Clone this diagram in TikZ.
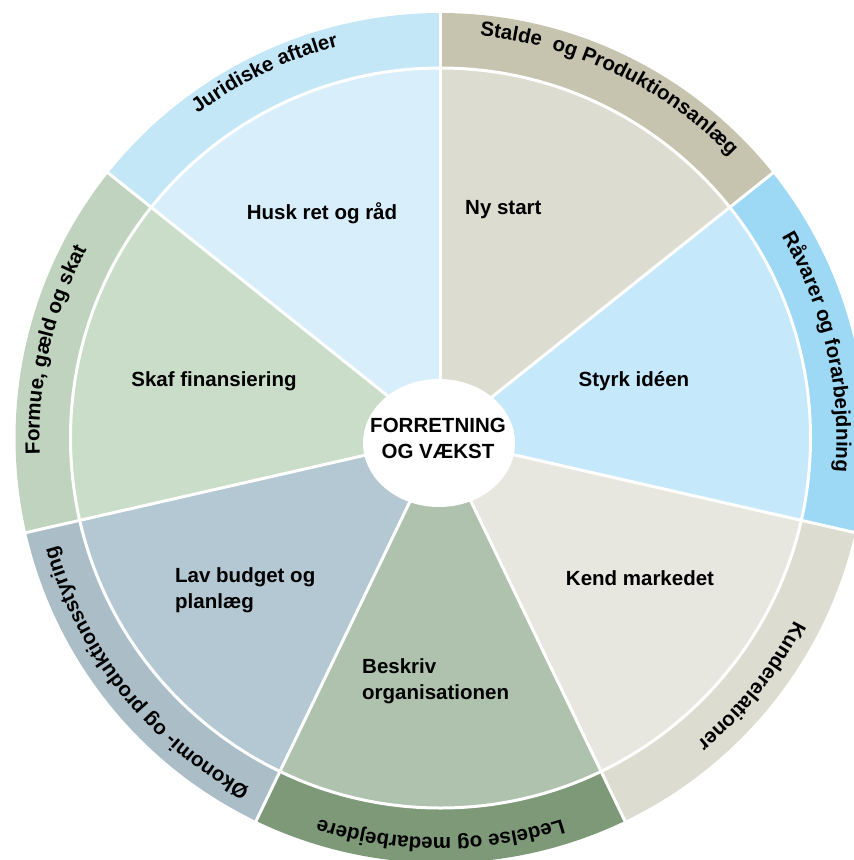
\documentclass[tikz,border=0pt]{standalone}
\usepackage{fontspec}
\setmainfont{Liberation Sans}
\usetikzlibrary{decorations.text}
\definecolor{nyIn}{HTML}{DDDCD0}
\definecolor{nyOut}{HTML}{C6C4AF}
\definecolor{stIn}{HTML}{C5E8FA}
\definecolor{stOut}{HTML}{9DD9F5}
\definecolor{keIn}{HTML}{E8E7DF}
\definecolor{keOut}{HTML}{DCDCD0}
\definecolor{beIn}{HTML}{AFC2AE}
\definecolor{beOut}{HTML}{7D9977}
\definecolor{laIn}{HTML}{B3C8D2}
\definecolor{laOut}{HTML}{ABBEC8}
\definecolor{skIn}{HTML}{CADDC8}
\definecolor{skOut}{HTML}{BFD3BE}
\definecolor{huIn}{HTML}{D8EFFB}
\definecolor{huOut}{HTML}{C4E7F8}
\newcommand\lblfont{\fontsize{20.5}{26.5}\selectfont\bfseries}
\newcommand\ringfont{\fontsize{20.5}{24}\selectfont\bfseries}
\tikzset{
  lbl/.style={font=\lblfont, text=black, inner sep=0pt},
  sep/.style={white, line width=3pt},
  ringtext/.style={decorate, decoration={text along path, text align=center, text={|\ringfont|#1}}}
}
\begin{document}
\begin{tikzpicture}[x=1pt,y=1pt]
\useasboundingbox (0,0) rectangle (854,-860);
\coordinate (C) at (440.5,-438);
\begin{scope}[shift={(C)}]
  % sectors: start angle / end angle / inner colour / outer colour
  \foreach \s/\e/\ci/\co in {90/38.571/nyIn/nyOut, 38.571/-12.857/stIn/stOut,
      -12.857/-64.286/keIn/keOut, -64.286/-115.714/beIn/beOut,
      -115.714/-167.143/laIn/laOut, -167.143/-218.571/skIn/skOut,
      141.429/90/huIn/huOut}{
    \fill[\co] (0,0) -- (\s:425) arc[start angle=\s, end angle=\e, radius=425] -- cycle;
    \fill[\ci] (0,0) -- (\s:369) arc[start angle=\s, end angle=\e, radius=369] -- cycle;
  }
  \draw[sep] (0,0) circle[radius=370];
  \foreach \a in {90,38.571,-12.857,-64.286,-115.714,-167.143,141.429}
    \draw[sep] (0,0) -- (\a:427);
  \fill[white] (-1.5,-5) ellipse[x radius=76, y radius=64];
  % ring texts (clockwise, centred on each segment)
  \path[ringtext={Stalde {\ }og Produktionsanlæg}] (104.3:404) arc[start angle=104.3, end angle=24.3, radius=404];
  \path[ringtext={Råvarer og forarbejdning}] (52.86:396) arc[start angle=52.86, end angle=-27.14, radius=396];
  \path[ringtext={Kunderelationer}] (1.43:398) arc[start angle=1.43, end angle=-78.57, radius=398];
  \path[ringtext={Ledelse og medarbejdere}] (-50:400) arc[start angle=-50, end angle=-130, radius=400];
  \path[ringtext={Økonomi- og produktionsstyring}] (-101.43:399) arc[start angle=-101.43, end angle=-181.43, radius=399];
  \path[ringtext={Formue, gæld og skat}] (-152.86:401) arc[start angle=-152.86, end angle=-232.86, radius=401];
  \path[ringtext={Juridiske aftaler}] (155.71:405) arc[start angle=155.71, end angle=75.71, radius=405];
\end{scope}
% inner labels
\node[lbl] (husk) at (322,-213) {Husk ret og råd};
\node[lbl, anchor=west] (ny) at (465,-210) {Ny start};
\node[lbl] (styrk) at (634,-381) {Styrk idéen};
\node[lbl] (kend) at (640,-578) {Kend markedet};
\node[lbl, anchor=west, align=left] (beskriv) at (362,-681) {Beskriv\\organisationen};
\node[lbl, anchor=west, align=left] (lav) at (175,-590) {Lav budget og\\planlæg};
\node[lbl] (skaf) at (214,-381) {Skaf finansiering};
\node[lbl, align=center] (center) at (438,-438.5) {FORRETNING\\OG VÆKST};
\end{tikzpicture}
\end{document}
